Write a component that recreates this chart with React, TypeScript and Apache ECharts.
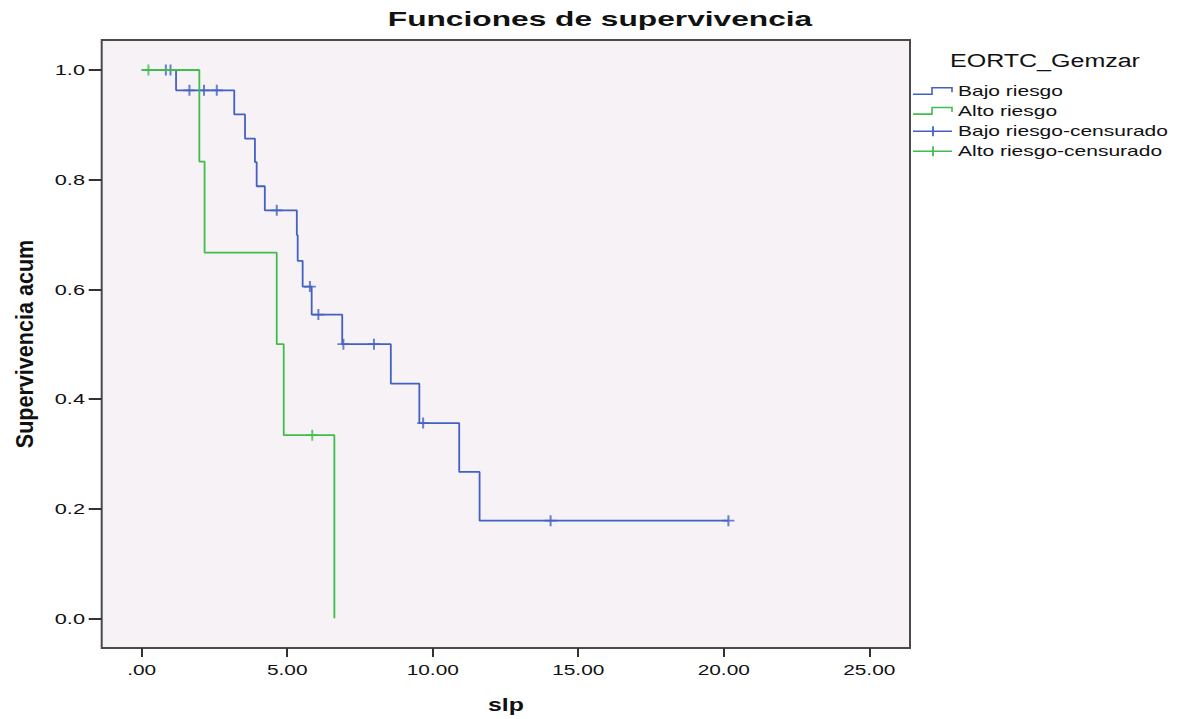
import React, { useEffect, useRef } from "react";
import * as echarts from "echarts";

const TITLE = "Funciones de supervivencia";
const X_NAME = "slp";
const Y_NAME = "Supervivencia acum";
const LEGEND_TITLE = "EORTC_Gemzar";
const SERIES_NAMES = ["Bajo riesgo", "Alto riesgo", "Bajo riesgo-censurado", "Alto riesgo-censurado"];

const X_TICKS = [0, 5, 10, 15, 20, 25];
const X_TICK_LABELS = [".00", "5.00", "10.00", "15.00", "20.00", "25.00"];
const Y_TICKS = [0, 0.2, 0.4, 0.6, 0.8, 1.0];
const Y_TICK_LABELS = ["0.0", "0.2", "0.4", "0.6", "0.8", "1.0"];

// Bajo riesgo: Kaplan-Meier steps (time, cumulative survival after the event)
const BAJO_TIME = [0, 1.18, 3.18, 3.55, 3.89, 3.95, 4.23, 5.33, 5.36, 5.53, 5.84, 6.89, 8.56, 9.54, 10.91, 11.61, 20.16];
const BAJO_SURV = [1, 0.963, 0.919, 0.875, 0.832, 0.788, 0.744, 0.699, 0.652, 0.605, 0.554, 0.5, 0.428, 0.356, 0.267, 0.178, 0.178];
const BAJO_CENS_TIME = [0.83, 0.99, 1.64, 2.14, 2.58, 4.64, 5.78, 6.07, 6.93, 7.98, 9.67, 14.05, 20.16];
const BAJO_CENS_SURV = [1, 1, 0.963, 0.963, 0.963, 0.744, 0.605, 0.554, 0.5, 0.5, 0.356, 0.178, 0.178];

// Alto riesgo
const ALTO_TIME = [0, 1.98, 2.16, 4.64, 4.88, 6.62];
const ALTO_SURV = [1, 0.833, 0.667, 0.5, 0.334, 0];
const ALTO_CENS_TIME = [0.23, 5.86];
const ALTO_CENS_SURV = [1, 0.334];

const BLUE = "#4361C2";
const GREEN = "#3FBE4D";
const FONT = "'Liberation Sans', Arial, sans-serif";
const CROSS = "path://M5,0 L7,0 L7,11 L5,11 Z M0,4.6 L12,4.6 L12,6.4 L0,6.4 Z";

export default function App() {
  const ref = useRef<HTMLDivElement>(null);

  useEffect(() => {
    document.body.style.margin = "0";
    const chart = echarts.init(ref.current!, null, { renderer: "svg" });

    const pair = (xs: number[], ys: number[]) => xs.map((x, i) => [x, ys[i]]);

    chart.setOption({
      animation: false,
      backgroundColor: "#ffffff",
      grid: {
        left: 101.7,
        top: 40,
        right: 276,
        bottom: 71,
        show: true,
        backgroundColor: "#F6F2F6",
        borderColor: "#4a4a4a",
        borderWidth: 2,
      },
      xAxis: {
        type: "value",
        min: -1.375,
        max: 26.4,
        axisLine: { show: false, onZero: false },
        splitLine: { show: false },
        axisTick: { show: true, customValues: X_TICKS, length: 9, lineStyle: { color: "#333", width: 2 } },
        axisLabel: { show: false },
      },
      yAxis: {
        type: "value",
        min: -0.0542,
        max: 1.0547,
        axisLine: { show: false, onZero: false },
        splitLine: { show: false },
        axisTick: { show: true, customValues: Y_TICKS, length: 13, lineStyle: { color: "#333", width: 2 } },
        axisLabel: { show: false },
      },
      series: [
        {
          name: SERIES_NAMES[0],
          type: "line",
          step: "end",
          data: pair(BAJO_TIME, BAJO_SURV),
          showSymbol: false,
          lineStyle: { color: BLUE, width: 1.8 },
          itemStyle: { color: BLUE },
        },
        {
          name: SERIES_NAMES[1],
          type: "line",
          step: "end",
          data: pair(ALTO_TIME, ALTO_SURV),
          showSymbol: false,
          lineStyle: { color: GREEN, width: 1.8 },
          itemStyle: { color: GREEN },
        },
        {
          name: SERIES_NAMES[2],
          type: "scatter",
          data: pair(BAJO_CENS_TIME, BAJO_CENS_SURV),
          symbol: CROSS,
          symbolSize: [12, 11],
          itemStyle: { color: BLUE },
        },
        {
          name: SERIES_NAMES[3],
          type: "scatter",
          data: pair(ALTO_CENS_TIME, ALTO_CENS_SURV),
          symbol: CROSS,
          symbolSize: [12, 11],
          itemStyle: { color: GREEN },
        },
      ],
    });

    const txt = (
      text: string,
      x: number,
      y: number,
      size: number,
      align: string,
      opts: any = {}
    ) => ({
      type: "text",
      x,
      y,
      scaleX: opts.scaleX ?? 1,
      scaleY: opts.scaleY ?? 1,
      rotation: opts.rotation ?? 0,
      silent: true,
      style: {
        text,
        fill: "#111",
        fontFamily: FONT,
        fontSize: size,
        fontWeight: opts.bold ? "bold" : "normal",
        textAlign: align,
        textVerticalAlign: "middle",
      },
    });

    const graphics: any[] = [];
    graphics.push(txt(TITLE, 600, 18.5, 21, "center", { bold: true, scaleX: 1.51 }));
    graphics.push(txt(X_NAME, 506, 705, 18, "center", { bold: true, scaleX: 1.38 }));
    graphics.push(txt(Y_NAME, 24, 344, 22, "center", { bold: true, rotation: Math.PI / 2, scaleX: 0.98, scaleY: 1.12 }));

    X_TICKS.forEach((v, i) => {
      const px = chart.convertToPixel({ xAxisIndex: 0 }, v) as number;
      graphics.push(txt(X_TICK_LABELS[i], px, 670.5, 15, "center", { scaleX: 1.39 }));
    });
    Y_TICKS.forEach((v, i) => {
      const py = chart.convertToPixel({ yAxisIndex: 0 }, v) as number;
      graphics.push(txt(Y_TICK_LABELS[i], 85, py, 15, "right", { scaleX: 1.45 }));
    });

    // legend
    graphics.push(txt(LEGEND_TITLE, 1045, 60.7, 18, "center", { scaleX: 1.39 }));
    const rows = [91.7, 111.5, 131.3, 151.3];
    const colors = [BLUE, GREEN, BLUE, GREEN];
    SERIES_NAMES.forEach((name, i) => {
      const y = rows[i];
      if (i < 2) {
        graphics.push({
          type: "polyline",
          silent: true,
          shape: { points: [[913, y + 2.6], [932, y + 2.6], [932, y - 4], [952, y - 4], [952, y + 0.5]] },
          style: { stroke: colors[i], lineWidth: 1.6, fill: null },
        });
      } else {
        graphics.push({
          type: "line",
          silent: true,
          shape: { x1: 913, y1: y, x2: 952, y2: y },
          style: { stroke: colors[i], lineWidth: 1.6 },
        });
        graphics.push({
          type: "line",
          silent: true,
          shape: { x1: 933, y1: y - 5, x2: 933, y2: y + 5 },
          style: { stroke: colors[i], lineWidth: 1.8 },
        });
      }
      graphics.push(txt(name, 958, y, 14, "left", { scaleX: 1.5 }));
    });

    chart.setOption({ graphic: graphics });

    return () => chart.dispose();
  }, []);

  return <div ref={ref} style={{ width: 1186, height: 719 }} />;
}
